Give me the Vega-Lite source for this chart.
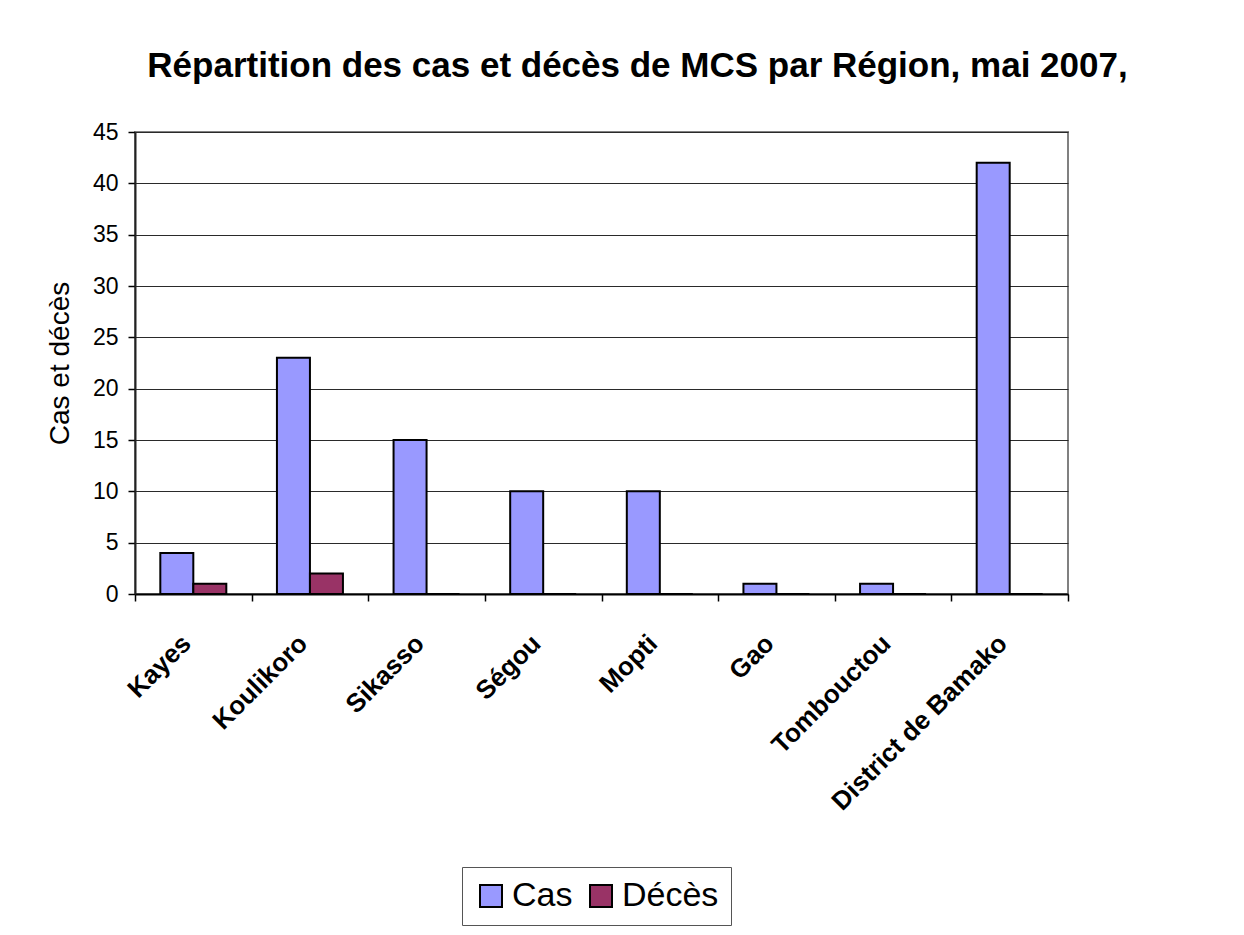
{
  "$schema": "https://vega.github.io/schema/vega-lite/v6.json",
  "autosize": {"type": "none"},
  "width": 933,
  "height": 462,
  "padding": {"left": 135, "top": 132, "right": 176, "bottom": 341},
  "background": "white",
  "title": {
    "text": "Répartition des cas et décès de MCS par Région, mai 2007,",
    "font": "Liberation Sans",
    "fontSize": 35,
    "fontWeight": "bold",
    "color": "black",
    "anchor": "middle",
    "dx": 36,
    "offset": 37
  },
  "data": {
    "values": [
      {"region": "Kayes", "serie": "Cas", "valeur": 4},
      {"region": "Kayes", "serie": "Décès", "valeur": 1},
      {"region": "Koulikoro", "serie": "Cas", "valeur": 23},
      {"region": "Koulikoro", "serie": "Décès", "valeur": 2},
      {"region": "Sikasso", "serie": "Cas", "valeur": 15},
      {"region": "Sikasso", "serie": "Décès", "valeur": 0},
      {"region": "Ségou", "serie": "Cas", "valeur": 10},
      {"region": "Ségou", "serie": "Décès", "valeur": 0},
      {"region": "Mopti", "serie": "Cas", "valeur": 10},
      {"region": "Mopti", "serie": "Décès", "valeur": 0},
      {"region": "Gao", "serie": "Cas", "valeur": 1},
      {"region": "Gao", "serie": "Décès", "valeur": 0},
      {"region": "Tombouctou", "serie": "Cas", "valeur": 1},
      {"region": "Tombouctou", "serie": "Décès", "valeur": 0},
      {"region": "District de Bamako", "serie": "Cas", "valeur": 42},
      {"region": "District de Bamako", "serie": "Décès", "valeur": 0}
    ]
  },
  "mark": {"type": "bar", "stroke": "black", "strokeWidth": 2},
  "encoding": {
    "x": {
      "field": "region",
      "type": "nominal",
      "sort": null,
      "scale": {"paddingInner": 0, "paddingOuter": 0},
      "axis": {
        "title": null,
        "labelAngle": -45,
        "labelAlign": "right",
        "labelBaseline": "middle",
        "labelFont": "Liberation Sans",
        "labelFontWeight": "bold",
        "labelFontSize": 26,
        "labelColor": "black",
        "labelPadding": 38,
        "labelOffset": -7,
        "labelLimit": 400,
        "tickBand": "extent",
        "tickSize": 7,
        "tickColor": "black",
        "tickWidth": 1.5,
        "domainColor": "black",
        "domainWidth": 2,
        "grid": false
      }
    },
    "xOffset": {"field": "serie", "type": "nominal", "scale": {"paddingInner": 0, "paddingOuter": 0.767}},
    "y": {
      "field": "valeur",
      "type": "quantitative",
      "scale": {"domain": [0, 45], "nice": false},
      "axis": {
        "title": "Cas et décès",
        "titleFont": "Liberation Sans",
        "titleFontSize": 28,
        "titleFontWeight": "normal",
        "titleColor": "black",
        "titlePadding": 18,
        "values": [0, 5, 10, 15, 20, 25, 30, 35, 40, 45],
        "labelFont": "Liberation Sans",
        "labelFontSize": 23,
        "labelColor": "black",
        "labelPadding": 10,
        "tickSize": 7,
        "tickColor": "black",
        "tickWidth": 1.5,
        "domainColor": "#222222",
        "domainWidth": 2,
        "grid": true,
        "gridColor": "#2a2a2a",
        "gridWidth": 1.2
      }
    },
    "color": {
      "field": "serie",
      "type": "nominal",
      "scale": {"domain": ["Cas", "Décès"], "range": ["#9999FF", "#993366"]},
      "legend": {
        "title": null,
        "orient": "none",
        "legendX": 327,
        "legendY": 735,
        "direction": "horizontal",
        "symbolType": "square",
        "symbolSize": 484,
        "symbolStrokeColor": "black",
        "symbolStrokeWidth": 2,
        "symbolOpacity": 1,
        "labelFont": "Liberation Sans",
        "labelFontSize": 34,
        "labelColor": "black",
        "labelLimit": 300,
        "labelOffset": 4,
        "columnPadding": 11,
        "padding": 12,
        "strokeColor": "#555555",
        "fillColor": "white"
      }
    }
  },
  "config": {
    "view": {"stroke": "#808080", "strokeWidth": 2}
  }
}
